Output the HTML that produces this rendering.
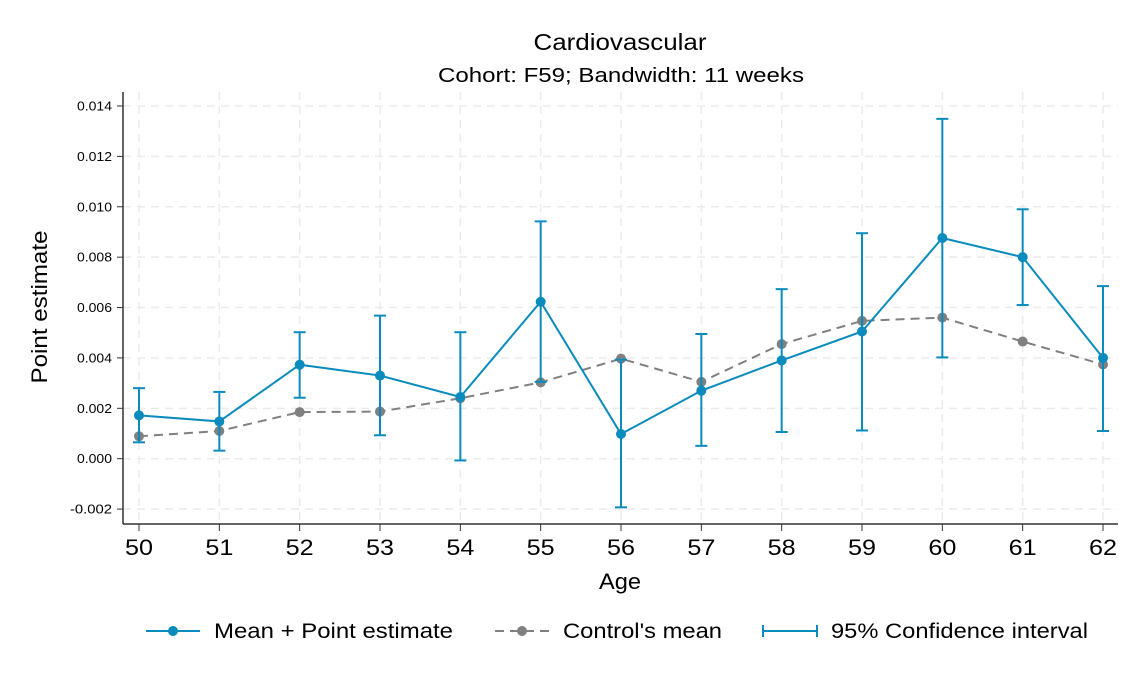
<!DOCTYPE html>
<html><head><meta charset="utf-8"><style>
body{margin:0;background:#fff;}
svg text{font-family:"Liberation Sans",Arial,sans-serif;fill:#000;}
</style></head><body>
<svg id="chart" width="1142" height="685" viewBox="0 0 1142 685" xmlns="http://www.w3.org/2000/svg">
<rect width="1142" height="685" fill="#fff"/>
<text x="620" y="50" font-size="23" text-anchor="middle" textLength="173" lengthAdjust="spacingAndGlyphs">Cardiovascular</text>
<text x="621" y="82" font-size="20" text-anchor="middle" textLength="366" lengthAdjust="spacingAndGlyphs">Cohort: F59; Bandwidth: 11 weeks</text>
<g id="grid"></g>
<g id="axes"></g>
<g id="marks"></g>
<text x="0" y="0" font-size="22" text-anchor="middle" textLength="153" lengthAdjust="spacingAndGlyphs" transform="translate(47,307) rotate(-90)">Point estimate</text>
<text x="620" y="589" font-size="22" text-anchor="middle" textLength="42" lengthAdjust="spacingAndGlyphs">Age</text>
<g>
 <g>
  <line x1="146" y1="631" x2="200" y2="631" stroke="#0a8bbd" stroke-width="2"/>
  <circle cx="173" cy="631" r="5" fill="#0a8bbd"/>
  <text x="214" y="638" font-size="21" textLength="239" lengthAdjust="spacingAndGlyphs">Mean + Point estimate</text>
 </g>
 <g>
  <line x1="495" y1="631" x2="549" y2="631" stroke="#808080" stroke-width="2" stroke-dasharray="9,6"/>
  <circle cx="522" cy="631" r="5" fill="#808080"/>
  <text x="563" y="638" font-size="21" textLength="159" lengthAdjust="spacingAndGlyphs">Control's mean</text>
 </g>
 <g>
  <line x1="763" y1="631" x2="817" y2="631" stroke="#0a8bbd" stroke-width="2"/>
  <line x1="763" y1="625" x2="763" y2="637" stroke="#0a8bbd" stroke-width="2"/>
  <line x1="817" y1="625" x2="817" y2="637" stroke="#0a8bbd" stroke-width="2"/>
  <text x="831" y="638" font-size="21" textLength="257" lengthAdjust="spacingAndGlyphs">95% Confidence interval</text>
 </g>
</g>
</svg>
<script>
const ages=[50,51,52,53,54,55,56,57,58,59,60,61,62];
const estimate=[0.00172,0.00148,0.00373,0.0033,0.00245,0.00623,0.00098,0.0027,0.0039,0.00505,0.00876,0.008,0.004];
const controlMean=[0.00089,0.0011,0.00185,0.00187,0.0024,0.00303,0.00397,0.00305,0.00455,0.00547,0.0056,0.00465,0.00374];
const ciLow=[0.00065,0.00032,0.00242,0.00093,-0.00007,0.00305,-0.00193,0.00051,0.00106,0.00112,0.00402,0.0061,0.0011];
const ciHigh=[0.0028,0.00265,0.00502,0.00568,0.00502,0.00942,0.00393,0.00495,0.00673,0.00895,0.01349,0.0099,0.00685];
const yTicks=[-0.002,0,0.002,0.004,0.006,0.008,0.010,0.012,0.014];
const yTickLabels=["-0.002","0.000","0.002","0.004","0.006","0.008","0.010","0.012","0.014"];

const NS="http://www.w3.org/2000/svg";
const X=a=>139+(a-50)*(1103-139)/12;
const Y=v=>458.7-v*(458.7-106)/0.014;
const L=92,R=1118,B=524;
function mk(p,t,at){const e=document.createElementNS(NS,t);for(const k in at)e.setAttribute(k,at[k]);p.appendChild(e);return e;}
const grid=document.getElementById('grid'),axes=document.getElementById('axes'),marks=document.getElementById('marks');
yTicks.forEach((v,i)=>{
 const g=mk(grid,'line',{x1:123,x2:R,y1:Y(v),y2:Y(v),stroke:'#ebebeb','stroke-width':1.5,'stroke-dasharray':'8,6'});
 
 
 const t=mk(axes,'line',{x1:117,x2:123,y1:Y(v),y2:Y(v),stroke:'#333','stroke-width':1});
 
 
 const lbl=yTickLabels[i];
 const tx=mk(axes,'text',{x:112,y:Y(v)+4.5,'font-size':13,'text-anchor':'end',textLength:lbl.length*7,lengthAdjust:'spacingAndGlyphs'});
 tx.textContent=lbl;
 
 
});
ages.forEach(a=>{
 const g=mk(grid,'line',{x1:X(a),x2:X(a),y1:L,y2:B,stroke:'#ebebeb','stroke-width':1.5,'stroke-dasharray':'8,6'});
 
 
 const t=mk(axes,'line',{x1:X(a),x2:X(a),y1:B,y2:B+7,stroke:'#333','stroke-width':1});
 
 
 const tx=mk(axes,'text',{x:X(a),y:B+31,'font-size':22,'text-anchor':'middle',textLength:28,lengthAdjust:'spacingAndGlyphs'});
 tx.textContent=a;
 
 
});
const ya=mk(axes,'line',{x1:123,x2:123,y1:L,y2:B,stroke:'#333','stroke-width':1.5});


const xa=mk(axes,'line',{x1:123,x2:R,y1:B,y2:B,stroke:'#333','stroke-width':1.5});



const cl=mk(marks,'polyline',{points:ages.map((a,i)=>X(a)+','+Y(controlMean[i])).join(' '),fill:'none',stroke:'#808080','stroke-width':2,'stroke-dasharray':'9,6'});


ages.forEach((a,i)=>{
 const c=mk(marks,'circle',{cx:X(a),cy:Y(controlMean[i]),r:5,fill:'#808080'});
 
 
});
ages.forEach((a,i)=>{
 const g=mk(marks,'g',{stroke:'#0a8bbd','stroke-width':2});
 
 
 mk(g,'line',{x1:X(a),x2:X(a),y1:Y(ciLow[i]),y2:Y(ciHigh[i])});
 mk(g,'line',{x1:X(a)-6,x2:X(a)+6,y1:Y(ciLow[i]),y2:Y(ciLow[i])});
 mk(g,'line',{x1:X(a)-6,x2:X(a)+6,y1:Y(ciHigh[i]),y2:Y(ciHigh[i])});
});
const el=mk(marks,'polyline',{points:ages.map((a,i)=>X(a)+','+Y(estimate[i])).join(' '),fill:'none',stroke:'#0a8bbd','stroke-width':2});


ages.forEach((a,i)=>{
 const c=mk(marks,'circle',{cx:X(a),cy:Y(estimate[i]),r:5,fill:'#0a8bbd'});
 
 
});
</script>
</body></html>
